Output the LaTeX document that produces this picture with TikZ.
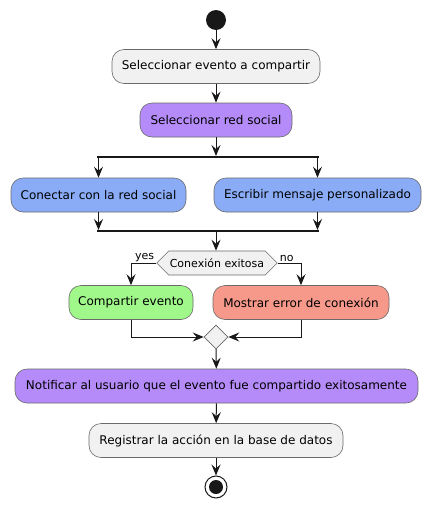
\documentclass[tikz,border=0pt]{standalone}
\usepackage{fontspec}
\setmainfont{DejaVu Sans}
\usetikzlibrary{arrows.meta,shapes.symbols,shapes.geometric}
\definecolor{lnc}{HTML}{181818}
\definecolor{bdc}{HTML}{6A6A6A}
\definecolor{greyf}{HTML}{F1F1F1}
\definecolor{purf}{HTML}{B48BF9}
\definecolor{bluf}{HTML}{8AACF7}
\definecolor{grnf}{HTML}{A0F78A}
\definecolor{redf}{HTML}{F7998A}
\tikzset{
  act/.style={draw=bdc, line width=0.6pt, rounded corners=12pt, minimum height=34pt, inner xsep=8pt, font=\fontsize{12}{14}\selectfont, text=black},
  flow/.style={draw=lnc, line width=1pt, -{Stealth[length=11pt,width=9pt,inset=4pt]}},
  bar/.style={draw=lnc, line width=2.5pt},
  lbl/.style={font=\fontsize{11}{13}\selectfont, inner sep=1pt},
}
\begin{document}
\begin{tikzpicture}[x=1pt,y=-1pt]
\useasboundingbox (0,0) rectangle (431,509);
\node[circle, fill=lnc, minimum size=20pt, inner sep=0] (start) at (216,20) {};
\node[act, fill=greyf, minimum width=208pt] (a1) at (216,66.5) {Seleccionar evento a compartir};
\node[act, fill=purf, minimum width=152pt] (a2) at (216,120) {Seleccionar red social};
\coordinate (fork) at (208,156);
\draw[bar] (97,157) -- (319,157);
\coordinate (forkL) at (98.5,157);
\coordinate (forkR) at (317.5,157);
\node[act, fill=bluf, minimum width=175pt] (a3) at (98.5,195) {Conectar con la red social};
\node[act, fill=bluf, minimum width=207pt] (a4) at (317.5,195) {Escribir mensaje personalizado};
\draw[bar] (97,231) -- (319,231);
\coordinate (joinL) at (98.5,230);
\coordinate (joinR) at (317.5,230);
\coordinate (joinC) at (216,231);
\node[signal, signal to=west and east, signal pointer angle=90, draw=bdc, fill=greyf, line width=0.6pt, minimum height=24pt, minimum width=118pt, inner sep=1pt, font=\fontsize{11}{13}\selectfont] (dec) at (217,263) {Conexión exitosa};
\coordinate (yesC) at (131,263);
\coordinate (noC) at (301,263);
\node[act, fill=grnf, minimum width=124pt] (a5) at (131,302.5) {Compartir evento};
\node[act, fill=redf, minimum width=176pt] (a6) at (301,302.5) {Mostrar error de conexión};
\node[diamond, draw=bdc, fill=greyf, line width=0.6pt, minimum width=24pt, minimum height=24pt, inner sep=0] (merge) at (216,337) {};
\coordinate (mL) at (131,337);
\coordinate (mR) at (301,337);
\node[act, fill=purf, minimum width=403pt] (a7) at (216.5,386) {Notificar al usuario que el evento fue compartido exitosamente};
\node[act, fill=greyf, minimum width=254pt] (a8) at (216,440.5) {Registrar la acción en la base de datos};
\node[circle, draw=lnc, line width=1pt, fill=white, minimum size=22pt, inner sep=0] (stop) at (216,487) {};
\node[circle, fill=lnc, minimum size=14pt, inner sep=0] (stopin) at (stop.center) {};
\draw[flow] (start) -- (a1);
\draw[flow] (a1) -- (a2);
\draw[flow] (a2.south) -- (a2.south |- fork);
\draw[flow] (forkL) -- (a3);
\draw[flow] (forkR) -- (a4);
\draw[flow] (a3) -- (joinL);
\draw[flow] (a4) -- (joinR);
\draw[flow] (joinC) -- (dec.north -| joinC);
\draw[flow] (dec.west) -- (yesC) -- (a5.north);
\draw[flow] (dec.east) -- (noC) -- (a6.north);
\node[lbl, anchor=south east] (ly) at ([xshift=-1pt]dec.west) {yes};
\node[lbl, anchor=south west] (ln) at ([xshift=1pt]dec.east) {no};
\draw[flow] (a5.south) -- (mL) -- (merge.west);
\draw[flow] (a6.south) -- (mR) -- (merge.east);
\draw[flow] (merge) -- (a7);
\draw[flow] (a7) -- (a8);
\draw[flow] (a8) -- (stop);
\end{tikzpicture}
\end{document}
